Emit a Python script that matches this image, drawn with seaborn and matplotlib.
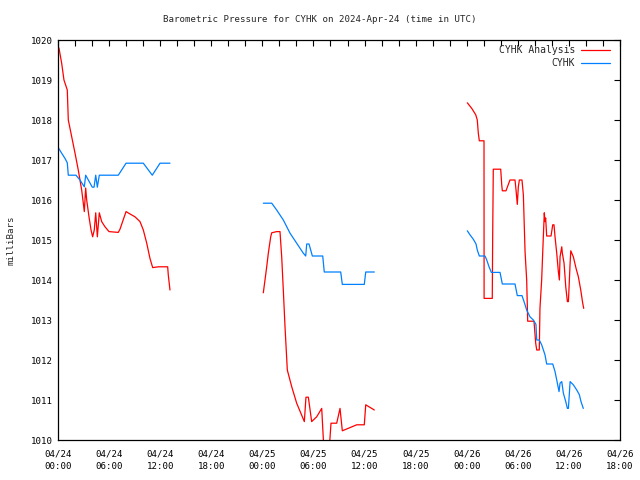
import numpy as np
import pandas as pd
import matplotlib
matplotlib.use("Agg")
import matplotlib.pyplot as plt
import seaborn as sns
from matplotlib.ticker import MultipleLocator, FixedLocator
from matplotlib.lines import Line2D

# ---- data (hours since 2024-04-24 00:00 UTC, pressure in mb) ----
ana_seg1_t = [0.00, 0.12, 0.43, 0.70, 1.09, 1.21, 1.61, 2.00, 2.38, 2.78, 2.97, 3.09, 3.25, 3.37, 3.64,
              3.88, 4.07, 4.26, 4.43, 4.62, 4.85, 5.13, 5.52, 5.99, 7.08, 7.28, 7.99, 8.46, 9.04, 9.63,
              10.02, 10.42, 10.80, 11.12, 11.78, 12.88, 12.95, 13.15]
ana_seg1_p = [1019.85, 1019.79, 1019.42, 1019.0, 1018.75, 1018.0, 1017.58, 1017.17, 1016.75, 1016.25,
              1015.92, 1015.71, 1016.3, 1016.0, 1015.58, 1015.25, 1015.08, 1015.25, 1015.68, 1015.08,
              1015.68, 1015.46, 1015.33, 1015.21, 1015.19, 1015.27, 1015.71, 1015.65, 1015.58, 1015.46,
              1015.25, 1014.92, 1014.54, 1014.31, 1014.33, 1014.33, 1014.13, 1013.75]

ana_seg2_t = [24.11, 24.31, 24.51, 24.70, 24.98, 25.10, 25.68, 26.07, 26.27, 26.46, 26.66, 26.93, 27.45,
              28.03, 28.93, 29.12, 29.40, 29.79, 30.38, 30.97, 31.24, 31.83, 32.06, 32.73, 33.12, 33.39,
              35.08, 35.97, 36.14, 37.15]
ana_seg2_p = [1013.68, 1014.0, 1014.33, 1014.67, 1015.08, 1015.18, 1015.21, 1015.21, 1014.58, 1013.75,
              1012.83, 1011.75, 1011.33, 1010.92, 1010.46, 1011.07, 1011.07, 1010.46, 1010.58, 1010.79,
              1009.7, 1009.7, 1010.42, 1010.42, 1010.79, 1010.23, 1010.38, 1010.38, 1010.88, 1010.75]

ana_seg3_t = [48.07, 48.59, 49.06, 49.24, 49.36, 49.48, 50.03, 50.04, 51.00, 51.05, 51.12, 51.99, 52.11,
              52.18, 52.61, 53.08, 53.67, 53.79, 53.94, 54.06, 54.18, 54.49, 54.65, 54.85, 55.04, 55.16,
              55.90, 56.10, 56.22, 56.52, 56.60, 56.80, 56.92, 57.11, 57.19, 57.27, 57.39, 57.90, 58.10,
              58.25, 58.37, 58.57, 58.76, 58.88, 58.96, 59.16, 59.23, 59.43, 59.63, 59.82, 59.94, 60.02,
              60.14, 60.22, 60.52, 60.84, 61.11, 61.39, 61.62, 61.74]
ana_seg3_p = [1018.43, 1018.29, 1018.13, 1018.0, 1017.67, 1017.48, 1017.48, 1013.54, 1013.54, 1015.15,
              1016.77, 1016.77, 1016.38, 1016.23, 1016.23, 1016.5, 1016.5, 1016.25, 1015.89, 1016.33,
              1016.5, 1016.5, 1016.13, 1014.71, 1014.0, 1012.97, 1012.97, 1012.42, 1012.25, 1012.25,
              1013.29, 1014.0, 1014.67, 1015.68, 1015.46, 1015.55, 1015.1, 1015.1, 1015.38, 1015.38,
              1015.08, 1014.67, 1014.21, 1014.0, 1014.58, 1014.83, 1014.67, 1014.42, 1013.83, 1013.46,
              1013.46, 1013.83, 1014.42, 1014.73, 1014.58, 1014.29, 1014.08, 1013.75, 1013.42, 1013.29]

obs_seg1_t = [0.00, 0.43, 0.82, 1.09, 1.21, 2.11, 2.58, 3.09, 3.25, 3.56, 4.03, 4.23, 4.43, 4.62, 4.85,
              7.08, 7.99, 10.02, 11.07, 11.98, 13.15]
obs_seg1_p = [1017.32, 1017.17, 1017.04, 1016.93, 1016.62, 1016.62, 1016.5, 1016.33, 1016.62, 1016.5,
              1016.32, 1016.32, 1016.62, 1016.32, 1016.62, 1016.62, 1016.92, 1016.92, 1016.62, 1016.92,
              1016.92]

obs_seg2_t = [24.11, 25.10, 25.68, 26.46, 27.25, 28.03, 28.81, 29.09, 29.21, 29.48, 29.87, 31.09, 31.27,
              33.20, 33.39, 35.97, 36.14, 37.15]
obs_seg2_p = [1015.92, 1015.92, 1015.75, 1015.5, 1015.17, 1014.92, 1014.67, 1014.6, 1014.9, 1014.9,
              1014.6, 1014.6, 1014.2, 1014.2, 1013.89, 1013.89, 1014.2, 1014.2]

obs_seg3_t = [48.07, 48.38, 48.77, 49.09, 49.24, 49.48, 50.15, 50.35, 50.62, 50.89, 51.91, 52.18, 53.67,
              53.94, 54.49, 54.73, 55.04, 55.43, 55.82, 56.13, 56.22, 56.52, 56.80, 57.19, 57.39, 58.10,
              58.37, 58.57, 58.84, 58.96, 59.16, 59.35, 59.63, 59.82, 59.94, 60.14, 60.52, 60.92, 61.23,
              61.42, 61.69]
obs_seg3_p = [1015.23, 1015.13, 1015.02, 1014.9, 1014.75, 1014.6, 1014.6, 1014.5, 1014.33, 1014.19,
              1014.19, 1013.9, 1013.9, 1013.61, 1013.61, 1013.46, 1013.25, 1013.08, 1013.0, 1012.89,
              1012.5, 1012.5, 1012.38, 1012.13, 1011.9, 1011.9, 1011.71, 1011.5, 1011.21, 1011.42,
              1011.46, 1011.17, 1010.96, 1010.79, 1010.79, 1011.46, 1011.38, 1011.25, 1011.13, 1010.96,
              1010.79]

series_names = ["CYHK Analysis", "CYHK"]
colors = {"CYHK Analysis": "#ff0000", "CYHK": "#0080ff"}

x_tick_hours = [0, 6, 12, 18, 24, 30, 36, 42, 48, 54, 60, 66]
x_tick_labels = ["04/24\n00:00", "04/24\n06:00", "04/24\n12:00", "04/24\n18:00",
                 "04/25\n00:00", "04/25\n06:00", "04/25\n12:00", "04/25\n18:00",
                 "04/26\n00:00", "04/26\n06:00", "04/26\n12:00", "04/26\n18:00"]
y_ticks = [1010, 1011, 1012, 1013, 1014, 1015, 1016, 1017, 1018, 1019, 1020]

# ---- build long table ----
rows = []
segs = [("CYHK Analysis", "a1", ana_seg1_t, ana_seg1_p),
        ("CYHK Analysis", "a2", ana_seg2_t, ana_seg2_p),
        ("CYHK Analysis", "a3", ana_seg3_t, ana_seg3_p),
        ("CYHK", "o1", obs_seg1_t, obs_seg1_p),
        ("CYHK", "o2", obs_seg2_t, obs_seg2_p),
        ("CYHK", "o3", obs_seg3_t, obs_seg3_p)]
for name, seg, ts, ps in segs:
    for t, p in zip(ts, ps):
        rows.append({"series": name, "seg": seg, "hour": t, "mb": p})
df = pd.DataFrame(rows)

sns.set_style("white")
mono = "DejaVu Sans Mono"
plt.rcParams["font.family"] = [mono]

fig = plt.figure(figsize=(6.4, 4.8), dpi=100)
ax = fig.add_axes([58 / 640, 40 / 480, (620 - 58) / 640, 400 / 480])

sns.lineplot(data=df, x="hour", y="mb", hue="series", units="seg", estimator=None,
             sort=False, palette=colors, hue_order=series_names, linewidth=0.9,
             legend=False, ax=ax)

ax.set_xlim(0, 66)
ax.set_ylim(1010, 1020)
ax.xaxis.set_major_locator(FixedLocator(x_tick_hours))
ax.set_xticklabels(x_tick_labels, linespacing=1.5)
ax.xaxis.set_minor_locator(MultipleLocator(2))
ax.set_yticks(y_ticks)
ax.set_yticklabels([str(v) for v in y_ticks])

fs = 6.6
ax.tick_params(axis="both", which="both", direction="in", length=4, width=0.8,
               top=True, right=True, labelsize=fs, colors="black", pad=4)
ax.tick_params(axis="x", which="major", pad=7)
for s in ax.spines.values():
    s.set_color("black")
    s.set_linewidth(0.9)

ax.set_xlabel("")
ax.set_ylabel("milliBars", fontsize=fs, labelpad=11)
fig.text(0.5, 1 - 20 / 480, "Barometric Pressure for CYHK on 2024-Apr-24 (time in UTC)",
         ha="center", va="center", fontsize=fs)

# legend (gnuplot style: right-aligned text, sample to the right)
for i, name in enumerate(series_names):
    yy = 1 - (50 + 13 * i - 40) / 400
    ax.text((575 - 58) / 562, yy, name, transform=ax.transAxes, ha="right", va="center",
            fontsize=7)
    ax.add_line(Line2D([(581 - 58) / 562, (610 - 58) / 562], [yy, yy], transform=ax.transAxes,
                       color=colors[name], linewidth=0.9))

fig.savefig("out.png", dpi=100)
